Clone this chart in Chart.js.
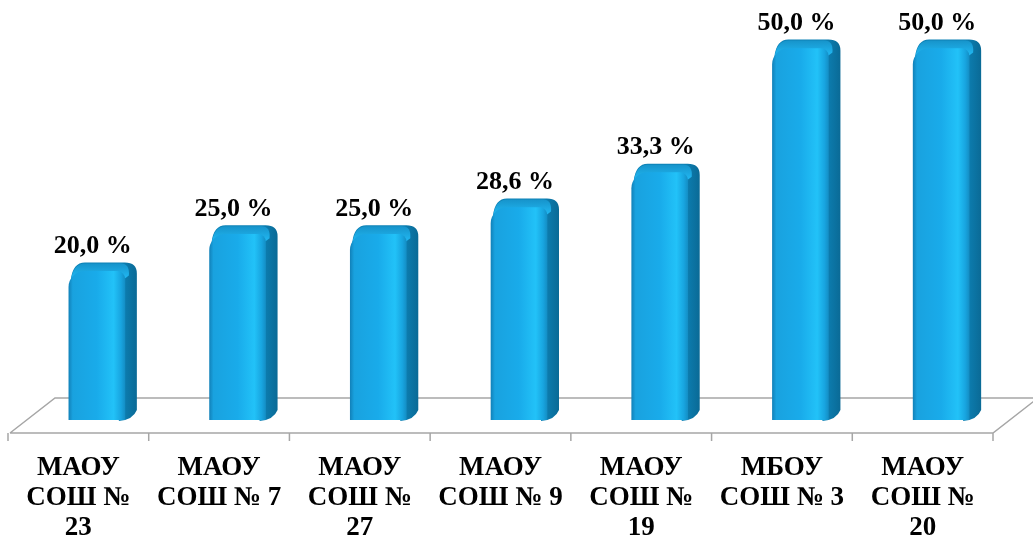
<!DOCTYPE html>
<html lang="ru">
<head>
<meta charset="UTF-8">
<title>Школы</title>
<script src="https://cdn.jsdelivr.net/npm/chart.js"></script>
<style>
    body {
        margin: 0;
        padding: 0;
        background: #fff;
    }
    #box {
        width: 1033px;
        height: 541px;
        position: relative;
    }
</style>
</head>
<body>
<div id="box"><canvas id="chart"></canvas></div>
<script>
    // подписи школ
    const schools = [
        ['МАОУ', 'СОШ №', '23'],
        ['МАОУ', 'СОШ № 7'],
        ['МАОУ', 'СОШ №', '27'],
        ['МАОУ', 'СОШ № 9'],
        ['МАОУ', 'СОШ №', '19'],
        ['МБОУ', 'СОШ № 3'],
        ['МАОУ', 'СОШ №', '20']
    ];
    // доля, %
    const percents = [20.0, 25.0, 25.0, 28.6, 33.3, 50.0, 50.0];

    const SHIFT = 18.5;     // сдвиг столбиков вглубь
    const DEPTH_X = 45, DEPTH_Y = 35;
    const serif = '"Liberation Serif", "Times New Roman", serif';

    function faceGradient(ctx) {
        const chart = ctx.chart;
        if (!chart.chartArea) return '#18a8e8';
        const x = chart.scales.x.getPixelForValue(ctx.dataIndex);
        const g = chart.ctx.createLinearGradient(x - 28, 0, x + 28, 0);
        g.addColorStop(0, '#1283bb');
        g.addColorStop(0.07, '#19a2df');
        g.addColorStop(0.5, '#19abea');
        g.addColorStop(0.8, '#22c2f8');
        g.addColorStop(0.93, '#18a5e0');
        g.addColorStop(1, '#148fc6');
        return g;
    }

    // пол, засечки, объём столбиков
    const floorPlugin = {
        id: 'floor',
        beforeDatasetsDraw(chart) {
            const c = chart.ctx;
            const a = chart.chartArea;
            const n = schools.length;
            const step = (a.right - a.left) / n;
            const x0 = a.left - SHIFT, x1 = a.right - SHIFT;
            const y0 = a.bottom + 13;
            c.save();
            c.strokeStyle = '#a6a6a6';
            c.lineWidth = 1.5;
            c.beginPath();
            c.moveTo(x0 + 2, y0);
            c.lineTo(x1, y0);
            c.lineTo(x1 + DEPTH_X, y0 - DEPTH_Y);
            c.moveTo(x0 + 2, y0);
            c.lineTo(x0 + 2 + DEPTH_X, y0 - DEPTH_Y);
            c.lineTo(chart.width, y0 - DEPTH_Y);
            for (let i = 0; i <= n; i++) {
                const tx = x0 + i * step;
                c.moveTo(tx, y0);
                c.lineTo(tx, y0 + 8);
            }
            c.stroke();

            const meta = chart.getDatasetMeta(0);
            meta.data.forEach(bar => {
                const l = bar.x - bar.width / 2;
                const r = bar.x + bar.width / 2;
                const top = bar.y;
                const base = bar.base;
                // боковая грань + силуэт
                const g = c.createLinearGradient(r - 4, 0, r + 12, 0);
                g.addColorStop(0, '#0d82b6');
                g.addColorStop(1, '#0a6a96');
                c.fillStyle = g;
                c.beginPath();
                c.moveTo(r - 6, base + 1);
                c.quadraticCurveTo(r + 8, base, r + 12, base - 10);
                c.lineTo(r + 12, top + 2);
                c.quadraticCurveTo(r + 12, top - 9, r, top - 9);
                c.lineTo(l + 16, top - 9);
                c.quadraticCurveTo(l + 4, top - 9, l + 2, top + 8);
                c.lineTo(l + 2, top + 20);
                c.lineTo(r - 6, top + 20);
                c.closePath();
                c.fill();
                // верхняя грань
                const tg = c.createLinearGradient(0, top - 9, 0, top + 6);
                tg.addColorStop(0, '#1691c8');
                tg.addColorStop(1, '#20b6f0');
                c.fillStyle = tg;
                c.beginPath();
                c.moveTo(l + 2, top + 10);
                c.quadraticCurveTo(l + 4, top - 8, l + 16, top - 8);
                c.lineTo(r - 4, top - 8);
                c.quadraticCurveTo(r + 5, top - 8, r + 4, top + 4);
                c.lineTo(r - 4, top + 10);
                c.closePath();
                c.fill();
            });
            c.restore();
        },
        afterDatasetsDraw(chart) {
            const c = chart.ctx;
            const meta = chart.getDatasetMeta(0);
            c.save();
            c.font = 'bold 26px ' + serif;
            c.fillStyle = '#000';
            c.textAlign = 'center';
            c.textBaseline = 'bottom';
            meta.data.forEach((bar, i) => {
                const txt = percents[i].toFixed(1).replace('.', ',') + ' %';
                c.fillText(txt, bar.x - 4, bar.y - 12);
            });
            c.restore();
        }
    };

    new Chart(document.getElementById('chart'), {
        type: 'bar',
        data: {
            labels: schools,
            datasets: [{
                data: percents,
                backgroundColor: faceGradient,
                borderWidth: 0,
                borderRadius: { topLeft: 16, topRight: 8, bottomLeft: 0, bottomRight: 0 },
                borderSkipped: 'bottom',
                barThickness: 56
            }]
        },
        options: {
            responsive: true,
            maintainAspectRatio: false,
            animation: false,
            layout: {
                padding: { left: 26.5, right: 21.5, top: 4, bottom: 0 }
            },
            plugins: {
                legend: { display: false },
                tooltip: { enabled: false }
            },
            scales: {
                x: {
                    grid: { display: false, drawTicks: false },
                    border: { display: false },
                    afterFit(scale) { scale.height = 121; },
                    ticks: {
                        color: '#000',
                        padding: 33,
                        labelOffset: -SHIFT,
                        maxRotation: 0,
                        autoSkip: false,
                        font: { family: serif, size: 27, weight: 'bold', lineHeight: 1.111 }
                    }
                },
                y: {
                    display: false,
                    min: 0,
                    max: 56
                }
            }
        },
        plugins: [floorPlugin]
    });
</script>
</body>
</html>
